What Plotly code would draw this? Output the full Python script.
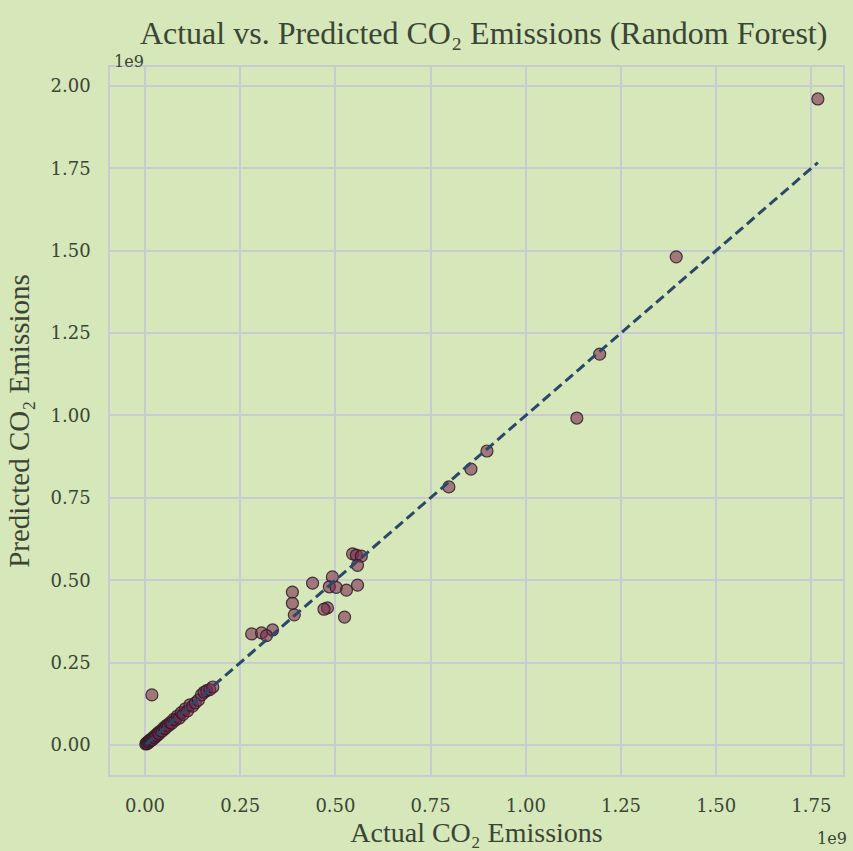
import plotly.graph_objects as go

# Values in units of 1e9
actual = [
    1.767, 1.395, 1.194, 1.134, 0.898, 0.856, 0.798,
    0.545, 0.555, 0.568, 0.558, 0.492, 0.440, 0.484, 0.529, 0.558, 0.502,
    0.387, 0.387, 0.392, 0.479, 0.470, 0.524, 0.280, 0.306, 0.335, 0.319,
    0.018,
    0.002, 0.004, 0.006, 0.008, 0.010, 0.012, 0.014, 0.016, 0.019, 0.022,
    0.025, 0.028, 0.031, 0.034, 0.037, 0.041, 0.045, 0.049, 0.053, 0.057,
    0.061, 0.066, 0.070, 0.075, 0.080, 0.085, 0.090, 0.095, 0.100, 0.106,
    0.112, 0.118, 0.125, 0.132, 0.140, 0.148, 0.155, 0.162, 0.170, 0.178,
]
predicted = [
    1.960, 1.481, 1.186, 0.992, 0.892, 0.837, 0.783,
    0.580, 0.576, 0.573, 0.545, 0.510, 0.491, 0.480, 0.470, 0.485, 0.478,
    0.464, 0.430, 0.395, 0.416, 0.412, 0.388, 0.337, 0.340, 0.349, 0.332,
    0.152,
    0.003, 0.006, 0.004, 0.010, 0.008, 0.014, 0.012, 0.018, 0.016, 0.024,
    0.022, 0.030, 0.028, 0.037, 0.034, 0.043, 0.042, 0.052, 0.050, 0.060,
    0.058, 0.068, 0.066, 0.078, 0.076, 0.088, 0.082, 0.098, 0.093, 0.110,
    0.104, 0.122, 0.118, 0.128, 0.136, 0.152, 0.160, 0.165, 0.168, 0.176,
]
tick_vals = [0.0, 0.25, 0.5, 0.75, 1.0, 1.25, 1.5, 1.75, 2.0]
tick_text = ["0.00", "0.25", "0.50", "0.75", "1.00", "1.25", "1.50", "1.75", "2.00"]

BG = "#d6e7b9"
GRID = "#c6ccd2"
TXT = "#3a4535"
FONT = "Liberation Serif"
TICKFONT = "DejaVu Serif"

lo, hi = min(actual), max(actual)

fig = go.Figure()
fig.add_trace(go.Scatter(
    x=actual, y=predicted, mode="markers",
    marker=dict(size=12, color="rgba(120,40,75,0.58)",
                line=dict(color="rgba(45,28,40,0.85)", width=1.2)),
    showlegend=False,
))
fig.add_trace(go.Scatter(
    x=[lo, hi], y=[lo, hi], mode="lines",
    line=dict(color="#2c4868", width=3, dash="10px,5px"),
    showlegend=False,
))

axis_common = dict(
    tickvals=tick_vals, ticktext=tick_text,
    showgrid=True, gridcolor=GRID, gridwidth=1.8,
    zeroline=False,
    showline=True, linecolor=GRID, linewidth=1.5, mirror=True,
    ticks="outside", ticklen=14, tickcolor=BG,
    tickfont=dict(family=TICKFONT, size=18, color=TXT),
)

fig.update_xaxes(range=[-0.092, 1.833],
                 title=dict(text="Actual CO₂ Emissions", standoff=7,
                            font=dict(family=FONT, size=28, color=TXT)),
                 **axis_common)
fig.update_yaxes(range=[-0.091, 2.057],
                 title=dict(text="Predicted CO₂ Emissions", standoff=12,
                            font=dict(family=FONT, size=29, color=TXT)),
                 **axis_common)

fig.update_layout(
    width=853, height=851,
    paper_bgcolor=BG, plot_bgcolor=BG,
    margin=dict(l=110, r=8, t=67, b=76),
    title=dict(text="Actual vs. Predicted CO₂ Emissions (Random Forest)",
               x=0.567, xanchor="center", y=0.962, yanchor="middle",
               font=dict(family=FONT, size=32, color=TXT)),
    annotations=[
        dict(text="1e9", xref="paper", yref="paper", x=0.0, y=1.0,
             xanchor="left", yanchor="bottom", xshift=2, yshift=-6, showarrow=False,
             font=dict(family=TICKFONT, size=16, color=TXT)),
        dict(text="1e9", xref="paper", yref="paper", x=1.0, y=0.0,
             xanchor="right", yanchor="top", xshift=6, yshift=-52, showarrow=False,
             font=dict(family=TICKFONT, size=16, color=TXT)),
    ],
)

fig.write_html("out.html")
